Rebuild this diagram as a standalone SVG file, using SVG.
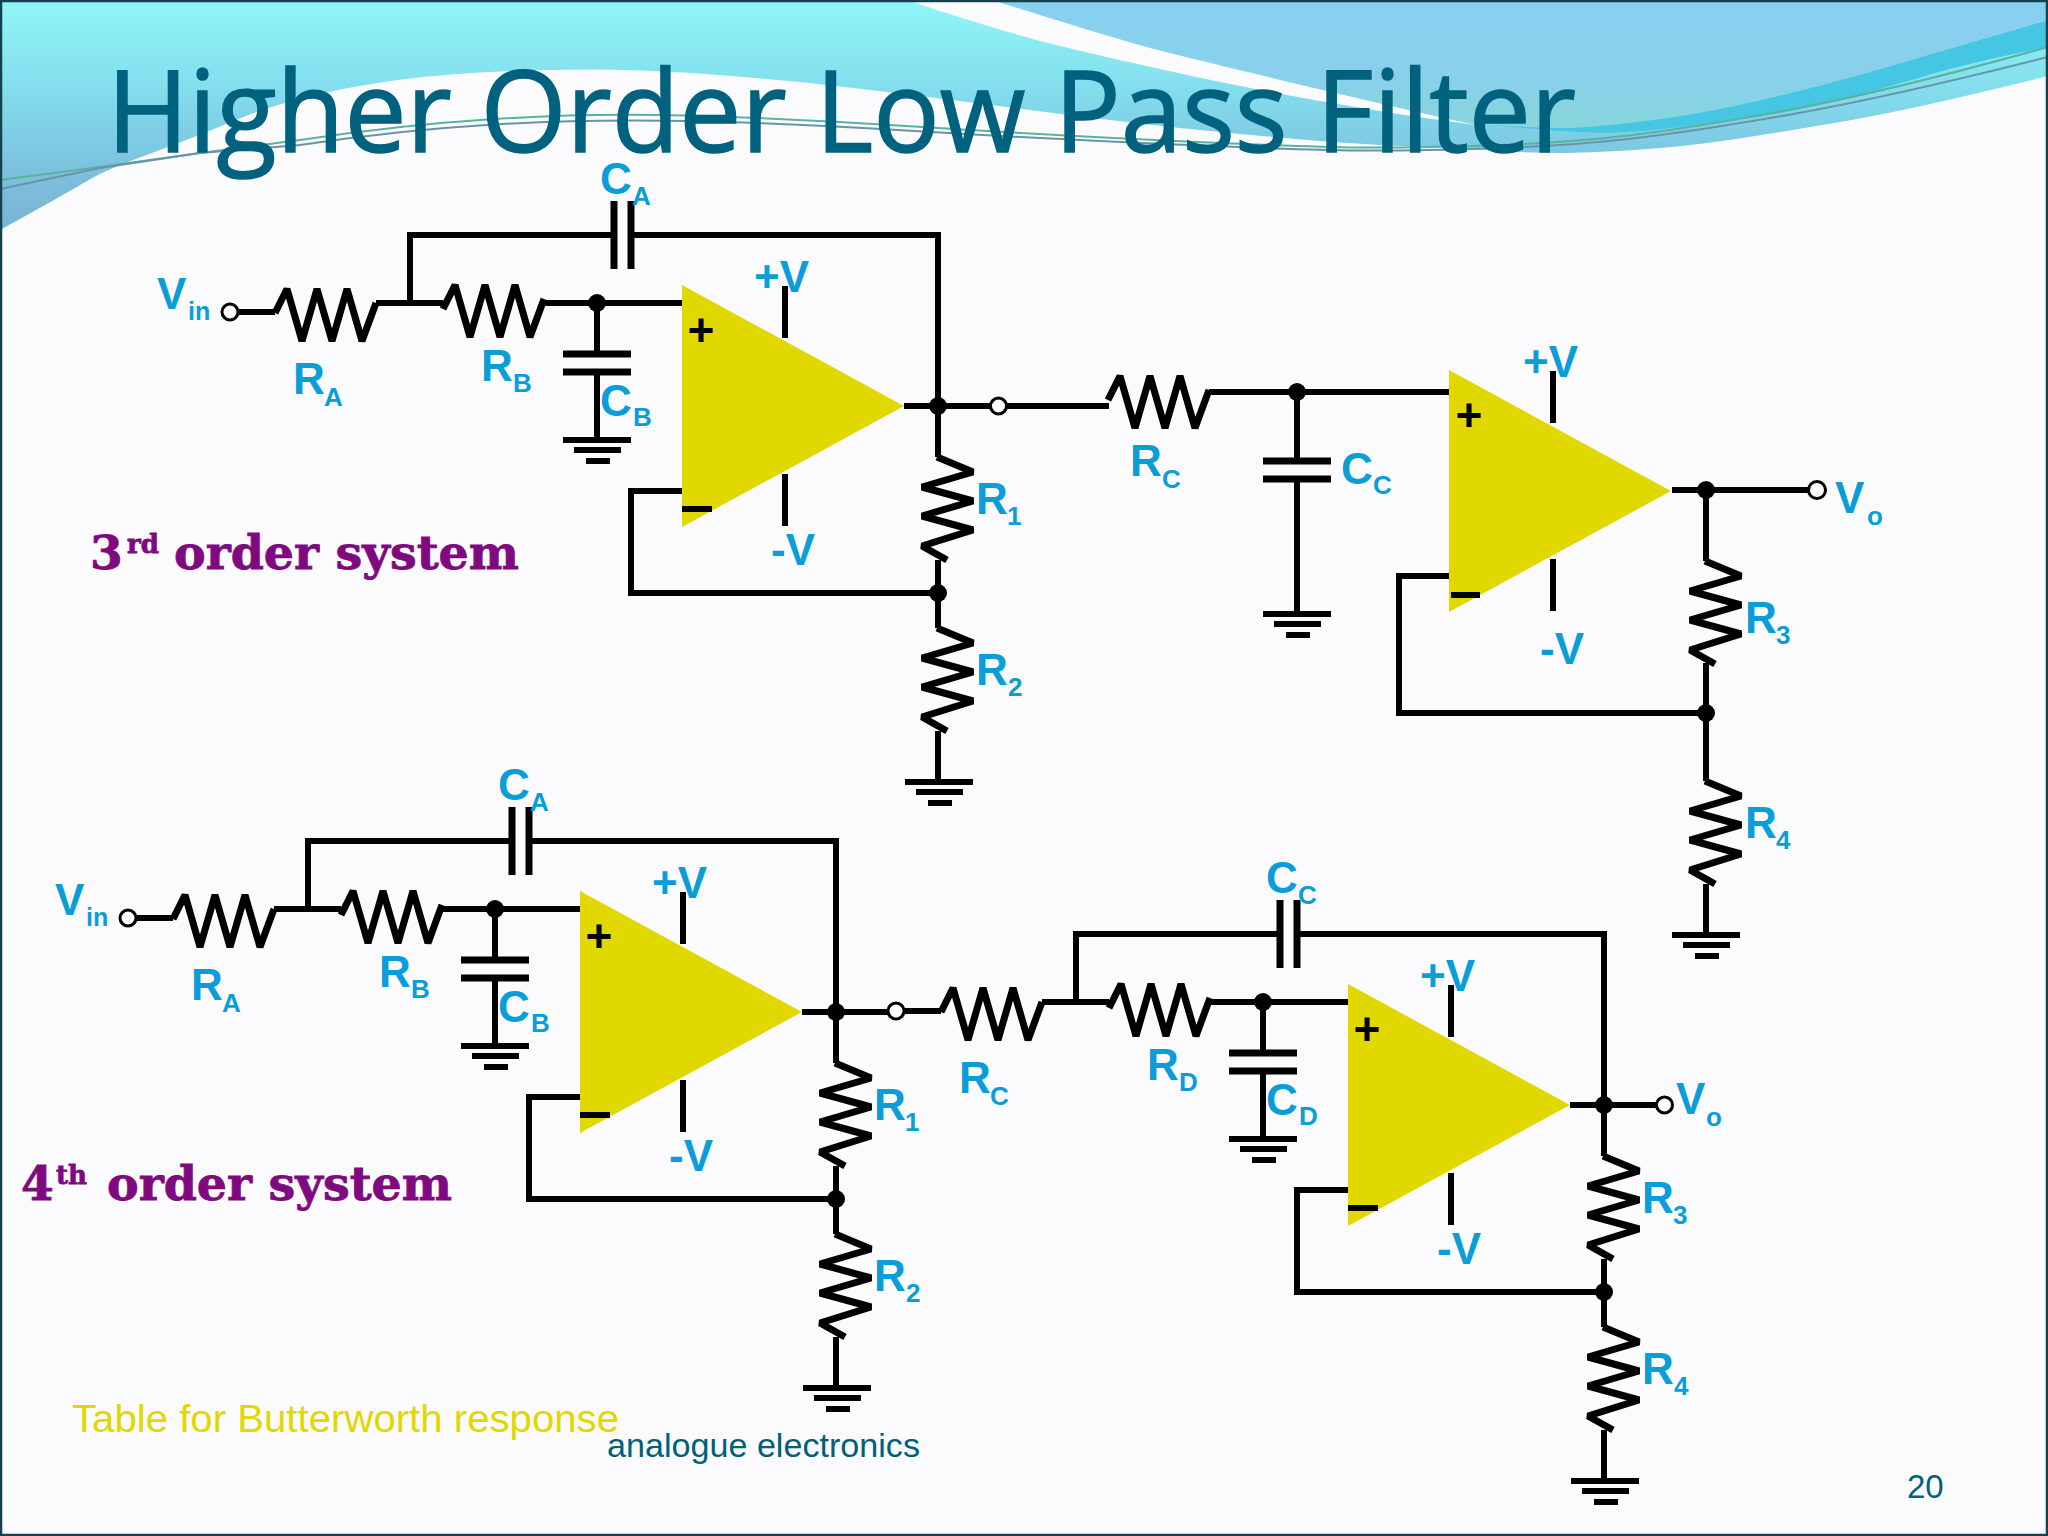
<svg xmlns="http://www.w3.org/2000/svg" xmlns:xlink="http://www.w3.org/1999/xlink" width="2048" height="1536" viewBox="0 0 2048 1536">
<style>
.w{fill:none;stroke:#000;stroke-width:6;stroke-linejoin:miter;stroke-linecap:butt}
.p{fill:none;stroke:#000;stroke-width:7;stroke-linecap:butt}
.r{fill:none;stroke:#000;stroke-width:7;stroke-linejoin:bevel;stroke-linecap:butt}
.lab{font-family:"Liberation Sans",Arial,sans-serif;font-weight:700;font-size:44px;fill:#0a9dd8}
.sub{font-size:26px}
.in{font-size:25px}
.amp{fill:#e0d800}
.dot{fill:#000}
.term{fill:#fff;stroke:#000;stroke-width:3}
.pm{font-family:"Liberation Sans",Arial,sans-serif;font-weight:700;font-size:46px;fill:#000;text-anchor:middle}
.ord{font-family:"DejaVu Serif",serif;font-weight:700;fill:#7f0a7f;stroke:#7f0a7f;stroke-width:.8}
</style>
<defs>
<linearGradient id="cy" gradientUnits="userSpaceOnUse" x1="0" y1="0" x2="0" y2="230">
<stop offset="0" stop-color="#90f7f8"/><stop offset=".35" stop-color="#84e0ee"/><stop offset=".7" stop-color="#7dc4e0"/><stop offset="1" stop-color="#7ab2d2"/>
</linearGradient>
<linearGradient id="bl" gradientUnits="userSpaceOnUse" x1="0" y1="0" x2="0" y2="130">
<stop offset="0" stop-color="#88d0f0"/><stop offset=".6" stop-color="#88d0ea"/><stop offset="1" stop-color="#86d6da"/>
</linearGradient>
<path id="res-h" class="r" d="M0 0L12 -24L27 28L42 -24L57 28L72 -24L87 28L101 -10"/>
<path id="res-v" class="r" d="M0 0L36 15L-15 30L36 44L-15 59L36 73L-15 89L10 103"/>
<path id="gnd" class="w" d="M-34 0H34M-23 10H24M-11 21H13"/>
<path id="cap-s" class="p" d="M-34 0H34M-34 18H34"/>
<path id="cap-p" class="p" d="M0 0V68M17 0V68"/>
<polygon id="op" class="amp" points="0,0 222,121 0,242"/>
<g id="stage-wires">
<path class="w" d="M238 312H275M376 303H443M545 303H683M410 303V235H614M631 235H938V406M597 303V354M597 372V440M683 491H631V593H938M904 406H990M938 406V457M938 560V628M938 731V782"/>
</g>
</defs>
<rect id="page" width="2048" height="1536" fill="#fbfbfd"/>
<g id="background">
<path fill="url(#cy)" d="M0 0H908C950 15 1000 30 1040 41C1150 68 1300 102 1476 125L1700 100L2048 30V76Q1920 108 1848.5 120.5Q1777 133 1729.5 140Q1682 147 1634 150Q1586 153 1557.5 153Q1529 153 1498 150.500Q1467 148 1431 147Q1395 146 1364 144Q1333 142 1319.5 141Q1306 140 1240.5 134Q1175 128 1110 120Q1045 112 979.5 103.5Q914 95 849 87.5Q784 80 718.5 75Q653 70 601 69.5Q549 69 490 72Q431 75 387 81.5Q343 88 305 97.5Q267 107 233.5 121Q200 135 166.5 147.5Q133 160 116.5 166.5Q100 173 83.5 183Q67 193 0 230Z"/>
<path fill="url(#bl)" d="M992 0H2048V20Q1968 43 1920 57.5Q1872 72 1824.5 84.5Q1777 97 1729.5 107Q1682 117 1634 122.5Q1586 128 1562 128Q1538 128 1491 125L1476 125C1380 104 1250 73 1150 48C1097 33 1040 15 992 0Z"/>
<path fill="#45c6e2" d="M1491 125Q1577 133 1605.5 132.5Q1634 132 1658 129.5Q1682 127 1729.5 121Q1777 115 1824.5 103.5Q1872 92 1920 77.5Q1968 63 2048 47V20Q1968 43 1920 57.5Q1872 72 1824.5 84.5Q1777 97 1729.5 107Q1682 117 1634 122.5Q1586 128 1562 128Q1538 128 1491 125Z"/>
<path fill="none" stroke="#58b49c" stroke-width="2" d="M0 180L100 167L200 153L300 140Q400 125 494 119Q588 113 686 115.5Q784 118 914.5 126.5Q1045 135 1175.5 141Q1306 147 1358 147.5Q1410 148 1488.5 145.5Q1567 143 1632.5 135Q1698 127 1796 108.5Q1894 90 2048 47"/>
<path fill="none" stroke="#6a93a8" stroke-width="2" d="M0 189L100 168L200 153L300 145Q400 130 494 124.5Q588 119 686 121Q784 123 914.5 131Q1045 139 1175.5 144.5Q1306 150 1358 150.5Q1410 151 1488.5 148.5Q1567 146 1632.5 138.5Q1698 131 1796 113.5Q1894 96 2048 57"/>
<rect x="1" y="1" width="2046" height="1534" fill="none" stroke="#15404e" stroke-width="2.5"/>
</g>
<text id="title" x="107" y="152" font-family="'Open Sans',sans-serif" font-size="113" fill="#00627e" stroke="#00627e" stroke-width="1.5" textLength="1469" lengthAdjust="spacingAndGlyphs">Higher Order Low Pass Filter</text>
<g id="connectors">
<use href="#stage-wires"/>
<use href="#stage-wires" transform="translate(-102 606)"/>
<use href="#stage-wires" transform="translate(666 699)"/>
<path class="w" d="M1007 406H1109M1209 392H1449M1297 392V461M1297 478V614M1672 490H1808M1706 490V561M1706 663V781M1706 884V935M1449 576H1399V713H1706"/>
</g>
<g id="third-order-stage1">
<g id="v3-in"><circle class="term" cx="230" cy="312" r="8"/><text class="lab" x="157" y="309">V<tspan class="in" x="188" y="320">in</tspan></text></g>
<g id="r3-A"><use href="#res-h" transform="translate(275 313)"/><text class="lab" x="293" y="394">R<tspan class="sub" x="324" y="406">A</tspan></text></g>
<g id="r3-B"><use href="#res-h" transform="translate(443 309)"/><text class="lab" x="481" y="381">R<tspan class="sub" x="513" y="392">B</tspan></text></g>
<g id="c3-A"><use href="#cap-p" transform="translate(614 201)"/><text class="lab" x="600" y="194">C<tspan class="sub" x="632" y="205">A</tspan></text></g>
<g id="c3-B"><use href="#cap-s" transform="translate(597 354)"/><text class="lab" x="600" y="416">C<tspan class="sub" x="633" y="426">B</tspan></text></g>
<g id="g3-B"><use href="#gnd" transform="translate(597 440)"/></g>
<g id="op3-1"><use href="#op" transform="translate(682 285)"/><text class="pm" x="701" y="346">+</text><path class="w" d="M682 509H712M785 286V338M785 474V526"/><text class="lab" x="754" y="292">+V</text><text class="lab" x="771" y="565">-V</text></g>
<g id="n3-1"><circle class="dot" cx="597" cy="303" r="9"/></g>
<g id="n3-2"><circle class="dot" cx="938" cy="406" r="9"/></g>
<g id="n3-3"><circle class="dot" cx="938" cy="593" r="9"/></g>
<g id="t3-mid"><circle class="term" cx="998.500" cy="406" r="8"/></g>
<g id="r3-1"><use href="#res-v" transform="translate(937 457)"/><text class="lab" x="976" y="514">R<tspan class="sub" x="1007" y="525">1</tspan></text></g>
<g id="r3-2"><use href="#res-v" transform="translate(937 628)"/><text class="lab" x="976" y="685">R<tspan class="sub" x="1008" y="696">2</tspan></text></g>
<g id="g3-2"><use href="#gnd" transform="translate(939 782)"/></g>
</g>
<g id="third-order-stage2">
<g id="r3-C"><use href="#res-h" transform="translate(1108 400)"/><text class="lab" x="1130" y="476">R<tspan class="sub" x="1162" y="488">C</tspan></text></g>
<g id="n3-4"><circle class="dot" cx="1297" cy="392" r="9"/></g>
<g id="c3-C"><use href="#cap-s" transform="translate(1297 461)"/><text class="lab" x="1341" y="484">C<tspan class="sub" x="1373" y="494">C</tspan></text></g>
<g id="g3-C"><use href="#gnd" transform="translate(1297 614)"/></g>
<g id="op3-2"><use href="#op" transform="translate(1449 370)"/><text class="pm" x="1469" y="431">+</text><path class="w" d="M1451 595H1480M1553 371V423M1553 559V611"/><text class="lab" x="1523" y="377">+V</text><text class="lab" x="1540" y="664">-V</text></g>
<g id="n3-5"><circle class="dot" cx="1706" cy="490" r="9"/></g>
<g id="n3-6"><circle class="dot" cx="1706" cy="713" r="9"/></g>
<g id="t3-out"><circle class="term" cx="1817" cy="490" r="8.500"/><text class="lab" x="1835" y="513">V<tspan class="sub" x="1867" y="525">o</tspan></text></g>
<g id="r3-3"><use href="#res-v" transform="translate(1705 561)"/><text class="lab" x="1745" y="633">R<tspan class="sub" x="1776" y="644">3</tspan></text></g>
<g id="r3-4"><use href="#res-v" transform="translate(1705 781)"/><text class="lab" x="1745" y="838">R<tspan class="sub" x="1776" y="849">4</tspan></text></g>
<g id="g3-4"><use href="#gnd" transform="translate(1706 935)"/></g>
</g>
<g id="fourth-order-stage1" transform="translate(-102 606)">
<g id="v4-in"><circle class="term" cx="230" cy="312" r="8"/><text class="lab" x="157" y="309">V<tspan class="in" x="188" y="320">in</tspan></text></g>
<g id="r4-A"><use href="#res-h" transform="translate(275 313)"/><text class="lab" x="293" y="394">R<tspan class="sub" x="324" y="406">A</tspan></text></g>
<g id="r4-B"><use href="#res-h" transform="translate(443 309)"/><text class="lab" x="481" y="381">R<tspan class="sub" x="513" y="392">B</tspan></text></g>
<g id="c4-A"><use href="#cap-p" transform="translate(614 201)"/><text class="lab" x="600" y="194">C<tspan class="sub" x="632" y="205">A</tspan></text></g>
<g id="c4-B"><use href="#cap-s" transform="translate(597 354)"/><text class="lab" x="600" y="416">C<tspan class="sub" x="633" y="426">B</tspan></text></g>
<g id="g4-B"><use href="#gnd" transform="translate(597 440)"/></g>
<g id="op4-1"><use href="#op" transform="translate(682 285)"/><text class="pm" x="701" y="346">+</text><path class="w" d="M682 509H712M785 286V338M785 474V526"/><text class="lab" x="754" y="292">+V</text><text class="lab" x="771" y="565">-V</text></g>
<g id="n4-1"><circle class="dot" cx="597" cy="303" r="9"/></g>
<g id="n4-2"><circle class="dot" cx="938" cy="406" r="9"/></g>
<g id="n4-3"><circle class="dot" cx="938" cy="593" r="9"/></g>
<g id="r4-1"><use href="#res-v" transform="translate(937 457)"/><text class="lab" x="976" y="514">R<tspan class="sub" x="1007" y="525">1</tspan></text></g>
<g id="r4-2"><use href="#res-v" transform="translate(937 628)"/><text class="lab" x="976" y="685">R<tspan class="sub" x="1008" y="696">2</tspan></text></g>
<g id="g4-2"><use href="#gnd" transform="translate(939 782)"/></g>
</g>
<g id="fourth-order-stage2" transform="translate(666 699)">
<g id="t4-mid"><circle class="term" cx="230" cy="312" r="8"/></g>
<g id="r4-C"><use href="#res-h" transform="translate(275 313)"/><text class="lab" x="293" y="394">R<tspan class="sub" x="324" y="406">C</tspan></text></g>
<g id="r4-D"><use href="#res-h" transform="translate(443 309)"/><text class="lab" x="481" y="381">R<tspan class="sub" x="513" y="392">D</tspan></text></g>
<g id="c4-C"><use href="#cap-p" transform="translate(614 201)"/><text class="lab" x="600" y="194">C<tspan class="sub" x="632" y="205">C</tspan></text></g>
<g id="c4-D"><use href="#cap-s" transform="translate(597 354)"/><text class="lab" x="600" y="416">C<tspan class="sub" x="633" y="426">D</tspan></text></g>
<g id="g4-D"><use href="#gnd" transform="translate(597 440)"/></g>
<g id="op4-2"><use href="#op" transform="translate(682 285)"/><text class="pm" x="701" y="346">+</text><path class="w" d="M682 509H712M785 286V338M785 474V526"/><text class="lab" x="754" y="292">+V</text><text class="lab" x="771" y="565">-V</text></g>
<g id="n4-4"><circle class="dot" cx="597" cy="303" r="9"/></g>
<g id="n4-5"><circle class="dot" cx="938" cy="406" r="9"/></g>
<g id="n4-6"><circle class="dot" cx="938" cy="593" r="9"/></g>
<g id="t4-out"><circle class="term" cx="998.500" cy="406" r="8"/><text class="lab" x="1010" y="415">V<tspan class="sub" x="1040" y="427">o</tspan></text></g>
<g id="r4-3"><use href="#res-v" transform="translate(937 457)"/><text class="lab" x="976" y="514">R<tspan class="sub" x="1007" y="525">3</tspan></text></g>
<g id="r4-4"><use href="#res-v" transform="translate(937 628)"/><text class="lab" x="976" y="685">R<tspan class="sub" x="1008" y="696">4</tspan></text></g>
<g id="g4-4"><use href="#gnd" transform="translate(939 782)"/></g>
</g>
<g id="captions">
<text class="ord" font-size="47" x="90" y="569">3<tspan font-size="26" x="127" y="553">rd</tspan><tspan x="174" y="569" textLength="345" lengthAdjust="spacingAndGlyphs">order system</tspan></text>
<text class="ord" font-size="47" x="21" y="1200">4<tspan font-size="26" x="56" y="1184">th</tspan><tspan x="107" y="1200" textLength="345" lengthAdjust="spacingAndGlyphs">order system</tspan></text>
<text x="72" y="1432" font-family="'Liberation Sans',Arial,sans-serif" font-size="38" fill="#e0d800" textLength="547" lengthAdjust="spacingAndGlyphs">Table for Butterworth response</text>
<text x="607" y="1457" font-family="'Liberation Sans',Arial,sans-serif" font-size="33" fill="#00607a" textLength="313" lengthAdjust="spacingAndGlyphs">analogue electronics</text>
<text x="1907" y="1498" font-family="'Liberation Sans',Arial,sans-serif" font-size="33" fill="#00607a">20</text>
</g>
</svg>
